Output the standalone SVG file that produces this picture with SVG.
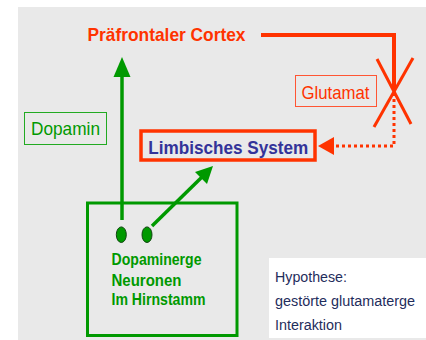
<svg xmlns="http://www.w3.org/2000/svg" width="426" height="340" viewBox="0 0 426 340">
<style>
.red{fill:#ff3300}
.g{fill:#009900}
.bold{font-family:"Liberation Sans",Arial,sans-serif;font-weight:bold}
.reg{font-family:"Liberation Sans",Arial,sans-serif}
</style>
<rect x="0" y="0" width="426" height="340" fill="#ffffff"/>
<rect x="18" y="7" width="408" height="333" fill="#e9e9e9"/>
<g id="connectors">
  <polyline points="261,35 394,35 394,91" fill="none" stroke="#ff3300" stroke-width="4"/>
  <line x1="377" y1="59" x2="411" y2="124" stroke="#ff3300" stroke-width="3"/>
  <line x1="413" y1="58" x2="374" y2="127" stroke="#ff3300" stroke-width="3"/>
  <polyline points="394,93 394,146 333,146" fill="none" stroke="#ff3300" stroke-width="3" stroke-dasharray="3 3"/>
  <polygon points="318,146 334,137 334,155" class="red"/>
  <line x1="122" y1="220" x2="122" y2="74" stroke="#009900" stroke-width="3.5"/>
  <polygon points="122,57 113.5,77 130.5,77" class="g"/>
  <line x1="152" y1="226" x2="202" y2="177" stroke="#009900" stroke-width="3.5"/>
  <polygon points="213,166 207,184 195,172" class="g"/>
</g>
<g id="cortex">
  <text x="87.5" y="40.5" class="bold red" font-size="18.5" textLength="158" lengthAdjust="spacingAndGlyphs">Präfrontaler Cortex</text>
</g>
<g id="glutamat">
  <rect x="295.5" y="75.5" width="81" height="31" fill="none" stroke="#ff5533" stroke-width="1"/>
  <text x="301.5" y="99" class="reg red" font-size="19" textLength="68" lengthAdjust="spacingAndGlyphs">Glutamat</text>
</g>
<g id="dopamin">
  <rect x="24.5" y="112.5" width="82" height="32" fill="none" stroke="#22aa22" stroke-width="1"/>
  <text x="31" y="135" class="reg g" font-size="18.5" textLength="69" lengthAdjust="spacingAndGlyphs">Dopamin</text>
</g>
<g id="limbisch">
  <rect x="141" y="131" width="174" height="29" fill="none" stroke="#ff3300" stroke-width="3.5"/>
  <text x="148.3" y="154" class="bold" fill="#333399" font-size="19" textLength="160" lengthAdjust="spacingAndGlyphs">Limbisches System</text>
</g>
<g id="hirnstamm">
  <rect x="87.5" y="203" width="149.5" height="132.5" fill="none" stroke="#009900" stroke-width="3"/>
  <ellipse cx="121.3" cy="234.7" rx="5" ry="7.8" fill="#009900" stroke="#114411" stroke-width="1"/>
  <ellipse cx="147" cy="234.7" rx="5" ry="7.8" fill="#009900" stroke="#114411" stroke-width="1"/>
  <text class="bold g" font-size="16">
    <tspan x="111.5" y="265" textLength="90" lengthAdjust="spacingAndGlyphs">Dopaminerge</tspan>
    <tspan x="111.5" y="285.5" textLength="70" lengthAdjust="spacingAndGlyphs">Neuronen</tspan>
    <tspan x="111.5" y="304.5" textLength="94" lengthAdjust="spacingAndGlyphs">Im Hirnstamm</tspan>
  </text>
</g>
<g id="hypothese">
  <rect x="269" y="258" width="157" height="80" fill="#ffffff"/>
  <text class="reg" fill="#1f2d5c" font-size="15.5">
    <tspan x="275" y="282" textLength="72" lengthAdjust="spacingAndGlyphs">Hypothese:</tspan>
    <tspan x="275" y="306" textLength="140" lengthAdjust="spacingAndGlyphs">gestörte glutamaterge</tspan>
    <tspan x="275" y="330" textLength="67" lengthAdjust="spacingAndGlyphs">Interaktion</tspan>
  </text>
</g>
</svg>
